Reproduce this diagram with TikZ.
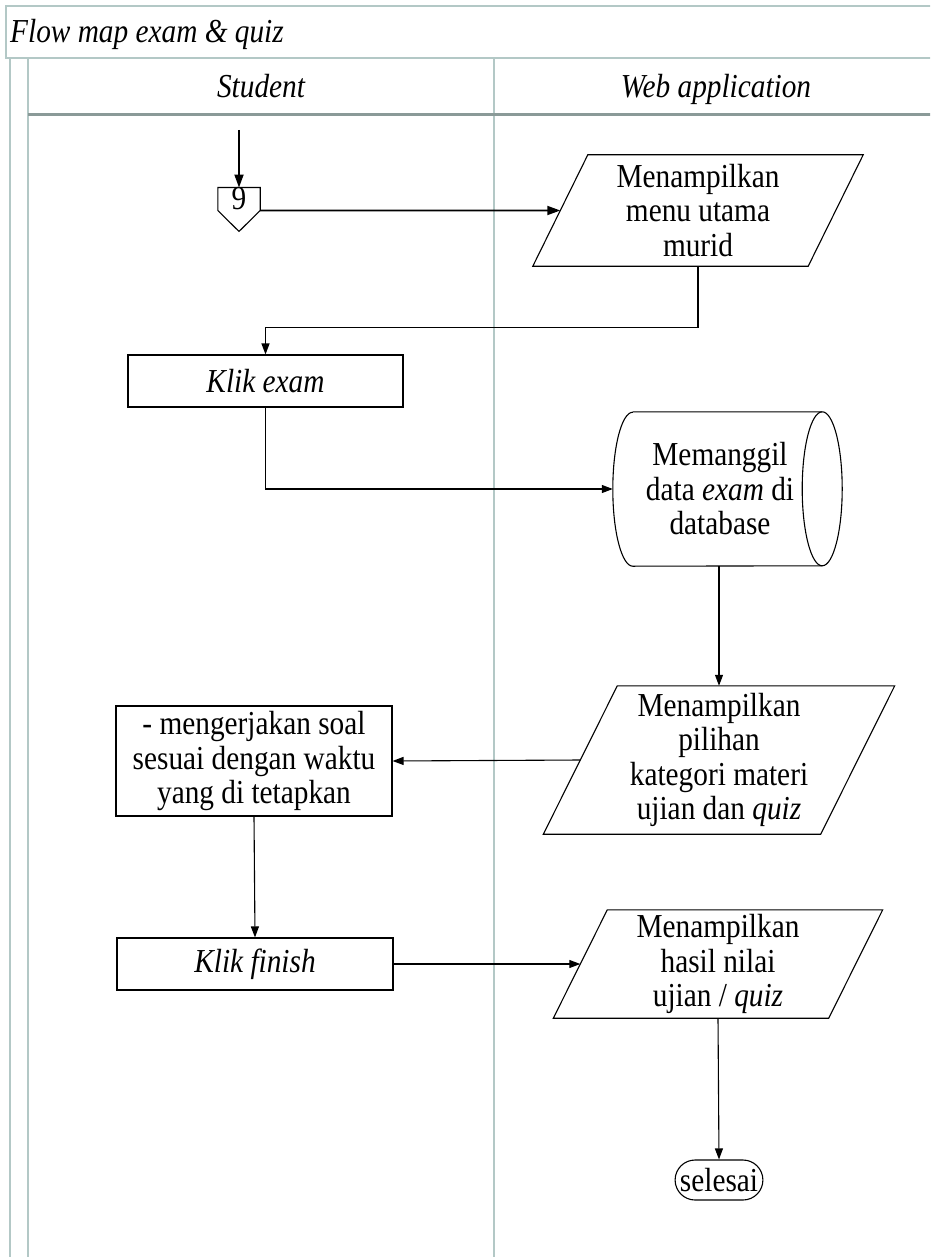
\documentclass[tikz,border=0pt]{standalone}
\usepackage{fontspec}
\setmainfont{Liberation Serif}[FakeStretch=0.875]
\usetikzlibrary{arrows.meta,calc,shapes.misc}

\definecolor{laneline}{HTML}{B3C8C6}
\definecolor{headline}{HTML}{8A9A98}

% parallelogram (data / display) drawn round a text node: #1 node name, #2 half slant
\newcommand\drawparal[2]{%
  \draw[shapeline] ($(#1.north west)+(#2,0)$) -- ($(#1.north east)+(#2,0)$)
    -- ($(#1.south east)-(#2,0)$) -- ($(#1.south west)-(#2,0)$) -- cycle;}
\newcommand\flowfont{\fontsize{33.5}{34.5}\selectfont}

\begin{document}
\begin{tikzpicture}[x=1pt,y=-1pt,
  lane/.style={draw=laneline, line width=1.5pt},
  txt/.style={font=\flowfont, align=center, inner sep=0pt},
  headtxt/.style={font=\flowfont\itshape, inner sep=0pt, anchor=base},
  shapeline/.style={draw=black, line width=1.1pt},
  procbox/.style={txt, shapeline, minimum width=276pt},
  iobox/.style={txt, minimum width=275pt},
  flow/.style={draw=black, line width=1.1pt, -{Triangle[length=11pt,width=8pt]}},
  boldflow/.style={draw=black, line width=1.8pt, -{Triangle[length=13pt,width=9pt]}},
  ]
\useasboundingbox (0,0) rectangle (930,1257);
\begin{scope}
\clip (0,0) rectangle (930,1257);
% pool frame and lanes
\draw[lane] (940,6) -- (6,6) -- (6,58) -- (940,58);
\draw[lane] (10,58) -- (10,1270);
\draw[lane] (28,58) -- (28,1270);
\draw[lane] (494,58) -- (494,1270);
\draw[draw=headline, line width=3pt] (28,115) -- (940,115);
\end{scope}

\node[headtxt, anchor=base west] (title) at (10,43) {Flow map exam \& quiz};
\node[headtxt] (hdstudent) at (261,98) {Student};
\node[headtxt] (hdweb) at (716,98) {Web application};

% off-page connector 9
\node[txt, minimum width=42pt, minimum height=22pt] (c9) at (239,199) {\raisebox{-3pt}{9}};
\draw[shapeline] (c9.north west) -- (c9.north east) -- (c9.south east)
  -- ($(c9.south)+(0,21)$) -- (c9.south west) -- cycle;
\coordinate (entry) at (239,130);

% display: main menu
\node[iobox, minimum height=111pt] (menu) at (698,210.5) {Menampilkan\\menu utama\\murid};
\drawparal{menu}{27.5}

% process: klik exam
\node[procbox, minimum width=275pt, minimum height=52pt] (exam) at (265.5,381) {\textit{Klik exam}};

% stored data: database
\node[minimum width=229pt, minimum height=154pt, inner sep=0pt] (db) at (727.5,489) {};
\node[txt] (dbtext) at (720,489) {Memanggil\\data \textit{exam} di\\database};
\draw[shapeline] ($(db.north west)+(20,0)$) -- ($(db.north east)+(-20,0)$)
  arc[start angle=90, end angle=-90, x radius=20pt, y radius=77pt]
  -- ($(db.south west)+(20,0)$)
  arc[start angle=-90, end angle=-270, x radius=20pt, y radius=77pt];
\draw[shapeline] ($(db.north east)+(-20,0)$)
  arc[start angle=90, end angle=270, x radius=20pt, y radius=77pt];

% display: categories
\node[iobox, minimum width=277pt, minimum height=148pt] (catg) at (719,760)
  {Menampilkan\\pilihan\\kategori materi\\ujian dan \textit{quiz}};
\drawparal{catg}{37}

% process: answering questions
\node[procbox, minimum height=110pt] (task) at (254,761)
  {- mengerjakan soal\\sesuai dengan waktu\\yang di tetapkan};

% process: klik finish
\node[procbox, minimum height=52pt] (finish) at (255,964) {\textit{Klik finish}};

% display: results
\node[iobox, minimum height=108pt] (result) at (718,964) {Menampilkan\\hasil nilai\\ujian / \textit{quiz}};
\drawparal{result}{27}

% terminator
\node[txt, shapeline, rounded rectangle, minimum width=80pt, minimum height=40pt, inner xsep=1pt] (finishend) at (719,1180) {selesai};

% connectors
\draw[boldflow] (entry) -- (c9.north);
\draw[boldflow] (c9.south east) -- (menu.west);
\draw[flow] (menu.south) -- ++(0,61) -| (exam.north);
\draw[flow] (exam.south) |- (db.west);
\draw[flow] (db.south -| catg.north) -- (catg.north);
\draw[flow] (catg.west) -- (task.east);
\draw[flow] (task.south) -- (finish.north);
\draw[flow] (finish.east) -- (result.west);
\draw[flow] (result.south) -- (finishend.north);
\end{tikzpicture}
\end{document}
